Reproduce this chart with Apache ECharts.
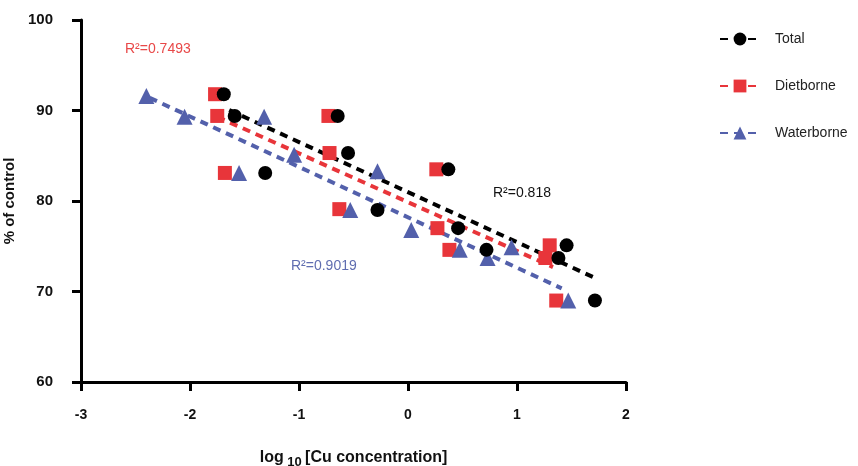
<!DOCTYPE html>
<html>
<head>
<meta charset="utf-8">
<script src="https://cdn.jsdelivr.net/npm/echarts@6/dist/echarts.min.js"></script>
<style>
html, body { margin: 0; padding: 0; background: #fff; }
#main { width: 858px; height: 466px; }
</style>
</head>
<body>
<div id="main"></div>
<script>
// data (log10 conc, % of control)
var totalX = [-1.69, -1.59, -1.31, -0.645, -0.55, -0.28, 0.37, 0.46, 0.72, 1.455, 1.38, 1.715];
var totalY = [91.8, 89.4, 83.1, 89.4, 85.3, 79.0, 83.5, 77.0, 74.6, 75.1, 73.7, 69.0];
var dietX = [-1.77, -1.75, -1.68, -0.73, -0.72, -0.63, 0.26, 0.27, 0.38, 1.30, 1.26, 1.36];
var dietY = [91.8, 89.4, 83.1, 89.4, 85.3, 79.1, 83.5, 77.0, 74.6, 75.1, 73.7, 69.0];
var waterX = [-2.40, -2.05, -1.55, -1.32, -1.045, -0.28, -0.53, 0.03, 0.475, 0.95, 0.73, 1.47];
var waterY = [91.6, 89.3, 83.1, 89.3, 85.1, 83.3, 79.0, 76.8, 74.6, 74.9, 73.7, 69.0];

// fitted lines: [x, y] at both ends
var totalFit = [[-1.64, 90.05], [1.715, 71.5]];
var dietFit = [[-1.75, 89.3], [1.33, 72.7]];
var waterFit = [[-2.37, 91.4], [1.41, 70.35]];

var seriesNames = ['Total', 'Dietborne', 'Waterborne'];
var r2Labels = ['R\u00b2=0.818', 'R\u00b2=0.7493', 'R\u00b2=0.9019'];

var colors = ['#000000', '#e8353a', '#5360ab'];
var symbols = ['circle', 'rect', 'triangle'];
var font = 'Liberation Sans, Arial, sans-serif';

function zip(xs, ys) {
	var out = [];
	for (var i = 0; i < xs.length; i++) {
		out.push([xs[i], ys[i]]);
	}
	return out;
}

var myChart = echarts.init(document.getElementById('main'));

var fits = [totalFit, dietFit, waterFit];
var points = [zip(totalX, totalY), zip(dietX, dietY), zip(waterX, waterY)];

var series = [];
// trend lines first, so they sit under the markers
[2, 1, 0].forEach(function (i) {
	series.push({
		name: seriesNames[i],
		type: 'line',
		data: fits[i],
		symbol: symbols[i],
		symbolSize: 14,
		showSymbol: false,
		silent: true,
		itemStyle: { color: colors[i] },
		lineStyle: { color: colors[i], width: 4, type: [8, 6] },
		z: 2
	});
});
[1, 2, 0].forEach(function (i) {
	series.push({
		name: seriesNames[i],
		type: 'scatter',
		data: points[i],
		symbol: symbols[i],
		symbolSize: i === 2 ? 16 : 14,
		itemStyle: { color: colors[i], opacity: 1 },
		z: 3
	});
});

var option = {
	animation: false,
	backgroundColor: '#fff',
	textStyle: { fontFamily: font },
	grid: { left: 81, right: 232, top: 20, bottom: 84, outerBoundsMode: 'none', containLabel: false },
	legend: {
		data: seriesNames,
		orient: 'vertical',
		left: 714,
		top: 27,
		itemWidth: 40,
		itemHeight: 16,
		itemGap: 33,
		textStyle: { fontFamily: font, fontSize: 14, color: '#222', padding: [0, 0, 0, 10] }
	},
	xAxis: {
		type: 'value',
		min: -3,
		max: 2,
		interval: 1,
		splitLine: { show: false },
		axisLine: { onZero: false, lineStyle: { color: '#000', width: 3 } },
		axisTick: { length: 9, lineStyle: { color: '#000', width: 3 } },
		axisLabel: { margin: 26, fontSize: 14, fontWeight: 'bold', color: '#111', fontFamily: font },
		name: '{a|log}{b| 10} {a|[Cu concentration]}',
		nameLocation: 'middle',
		nameGap: 64,
		nameMoveOverlap: false,
		nameTextStyle: {
			rich: {
				a: { fontSize: 16, fontWeight: 'bold', color: '#111', fontFamily: font },
				b: { fontSize: 13, fontWeight: 'bold', color: '#111', fontFamily: font, padding: [10, 0, 0, 0] }
			}
		}
	},
	yAxis: {
		type: 'value',
		min: 60,
		max: 100,
		interval: 10,
		splitLine: { show: false },
		axisLine: { onZero: false, lineStyle: { color: '#000', width: 3 } },
		axisTick: { length: 9, lineStyle: { color: '#000', width: 3 } },
		axisLabel: { margin: 28, fontSize: 15, fontWeight: 'bold', color: '#111', fontFamily: font },
		name: '% of control',
		nameLocation: 'middle',
		nameGap: 64,
		nameMoveOverlap: false,
		nameTextStyle: { fontSize: 15, fontWeight: 'bold', color: '#111', fontFamily: font }
	},
	graphic: [
		{ type: 'text', left: 493, top: 186, style: { text: r2Labels[0], fill: '#111', font: '14px ' + font } },
		{ type: 'text', left: 125, top: 42, style: { text: r2Labels[1], fill: '#e84848', font: '14px ' + font } },
		{ type: 'text', left: 291, top: 259, style: { text: r2Labels[2], fill: '#5f6db0', font: '14px ' + font } }
	],
	series: series
};

myChart.setOption(option);
</script>
</body>
</html>
